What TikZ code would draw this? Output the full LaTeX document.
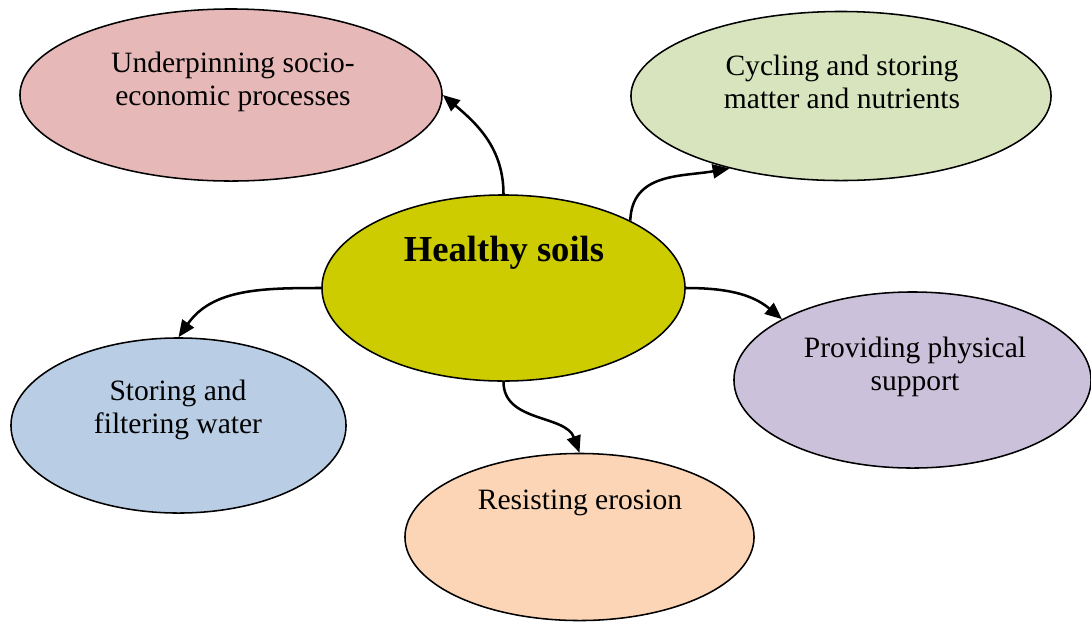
\documentclass[tikz,border=0pt]{standalone}
\usepackage{fontspec}
\setmainfont{Liberation Serif}
\usetikzlibrary{arrows.meta, positioning, shapes.geometric}
\definecolor{sociofill}{HTML}{E6B9B8}
\definecolor{cyclefill}{HTML}{D7E4BD}
\definecolor{soilfill}{HTML}{CCCC00}
\definecolor{supportfill}{HTML}{CCC1DA}
\definecolor{waterfill}{HTML}{B9CDE5}
\definecolor{erosionfill}{HTML}{FBD5B5}

\begin{document}
\begin{tikzpicture}[
    x=0.025cm, y=0.025cm,
    blob/.style={ellipse, draw, line width=1.1pt, inner sep=0pt},
    lbl/.style={align=center, inner sep=0pt, font=\fontsize{21}{24}\selectfont},
    el/.style={-{Triangle[length=12pt,width=10pt]}, line width=1.8pt}
  ]
    \useasboundingbox (0,0) rectangle (1091,-621);

    % ellipses
    \node[blob, fill=sociofill, minimum width=10.55cm, minimum height=4.3cm] (socio) at (231,-95) {};
    \node[blob, fill=cyclefill, minimum width=10.5cm, minimum height=4.225cm] (cycle) at (841,-96) {};
    \node[blob, fill=soilfill, minimum width=9.075cm, minimum height=4.65cm] (soil) at (503.5,-288) {};
    \node[blob, fill=supportfill, minimum width=8.925cm, minimum height=4.4cm] (support) at (912.5,-380) {};
    \node[blob, fill=waterfill, minimum width=8.375cm, minimum height=4.375cm] (water) at (178.5,-425.5) {};
    \node[blob, fill=erosionfill, minimum width=8.725cm, minimum height=4.175cm] (erosion) at (579.5,-537) {};

    % texts
    \node[lbl] (sociotxt) at (233,-82) {Underpinning socio-\\economic processes};
    \node[lbl] (cycletxt) at (842,-82) {Cycling and storing\\matter and nutrients};
    \node[lbl, font=\fontsize{26}{30}\selectfont\bfseries] (soiltxt) at (504,-253) {Healthy soils};
    \node[lbl] (supporttxt) at (915,-367) {Providing physical\\support};
    \node[lbl] (watertxt) at (178,-410) {Storing and\\filtering water};
    \node[lbl] (erosiontxt) at (580,-503) {Resisting erosion};

    % curved arrows
    \draw[el] (soil.north) to[out=90, in=-40] (socio.east);
    \draw[el] (soil.28) to[out=88, in=190, looseness=1.1] (cycle.213);
    \draw[el] (soil.east) to[out=0, in=140] (support.155);
    \draw[el] (soil.west) to[out=180, in=55] (water.north);
    \draw[el] (soil.south) to[out=-90, in=110] (erosion.north);
  \end{tikzpicture}
\end{document}
